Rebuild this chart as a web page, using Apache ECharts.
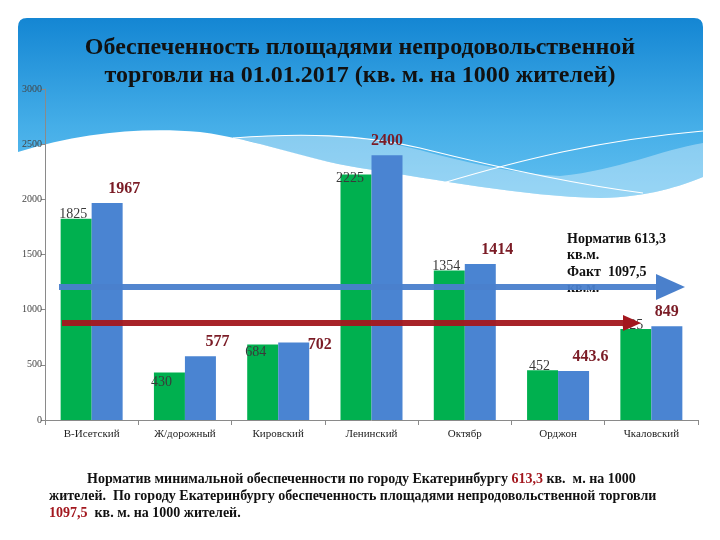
<!DOCTYPE html>
<html>
<head>
<meta charset="utf-8">
<script src="https://cdn.jsdelivr.net/npm/echarts@6/dist/echarts.min.js"></script>
<style>
html,body{margin:0;padding:0;background:#fff;}
#chart{width:720px;height:540px;}
</style>
</head>
<body>
<div id="chart"></div>
<script>
// ---- data ----
const categories = ['В-Исетский', 'Ж/дорожный', 'Кировский', 'Ленинский', 'Октябр', 'Орджон', 'Чкаловский'];
const greenValues = [1825, 430, 684, 2225, 1354, 452, 825];
const blueValues = [1967, 577, 702, 2400, 1414, 443.6, 849];
const yMin = 0, yMax = 3000, yStep = 500;
const arrowLevels = [1205, 880]; // decorative arrows (blue, red) in axis units
const titleLines = ['Обеспеченность площадями непродовольственной', 'торговли на 01.01.2017 (кв. м. на 1000 жителей)'];
const noteLines = ['Норматив 613,3', 'кв.м.', 'Факт  1097,5', 'кв.м.'];

const SERIF = "'Liberation Serif', 'Times New Roman', serif";

// label placement tweaks (styling only, by category index)
const greenLabelOffsets = {1: [-8, 18], 2: [-7, 16], 3: [-6, 12]};
const blueLabelOffsets = {2: [26, 16], 3: [0, 0], 6: [0, 0]};

// decorative background shapes
function regPath(name, d) {
  echarts.graphic.registerShape(name, echarts.graphic.extendPath(d, {}));
}
regPath('waveMain', 'M18,27 Q18,18 27,18 L694,18 Q703,18 703,27 L703,177 C680,186 650,197 600,198 C520,196 440,180 360,168 C300,158 260,140 200,132 C140,127 80,133 18,152 Z');
regPath('waveBand', 'M233,138 C300,132 360,134 420,150 C480,166 520,174 560,176 C620,170 660,150 703,143 L703,177 C680,186 650,197 600,198 C520,196 440,180 360,168 C300,158 265,143 233,138 Z');
regPath('waveLineA', 'M233,138 C300,133 360,134 420,148 C500,168 580,185 643,193');
regPath('waveLineB', 'M443,183 C520,160 600,140 703,131');

const chart = echarts.init(document.getElementById('chart'), null, {renderer: 'canvas'});

const greenData = greenValues.map((v, i) => greenLabelOffsets[i] ? {value: v, label: {offset: greenLabelOffsets[i]}} : v);
const blueData = blueValues.map((v, i) => blueLabelOffsets[i] ? {value: v, label: {offset: blueLabelOffsets[i]}} : v);

const option = {
  animation: false,
  backgroundColor: '#ffffff',
  title: {
    text: titleLines.join('\n'),
    left: 'center',
    top: 29,
    textStyle: {fontFamily: SERIF, fontWeight: 'bold', fontSize: 24, lineHeight: 28, color: '#111'}
  },
  grid: {left: 45, right: 22, top: 89, bottom: 120},
  xAxis: {
    type: 'category',
    data: categories,
    axisLine: {lineStyle: {color: '#8a8a8a', width: 1}},
    axisTick: {show: true, length: 5, lineStyle: {color: '#8a8a8a'}},
    axisLabel: {fontFamily: SERIF, fontSize: 11, color: '#222', margin: 9, interval: 0}
  },
  yAxis: {
    type: 'value',
    min: yMin, max: yMax, interval: yStep,
    splitLine: {show: false},
    axisLine: {show: true, lineStyle: {color: '#8a8a8a', width: 1}},
    axisTick: {show: true, length: 4, lineStyle: {color: '#8a8a8a'}},
    axisLabel: {fontFamily: SERIF, fontSize: 10, color: '#444', margin: 3, formatter: v => String(v)}
  },
  series: [
    {
      type: 'bar', name: 'green', data: greenData,
      barWidth: 31, barGap: '0%',
      itemStyle: {color: '#00b04f'},
      label: {show: true, position: 'top', distance: 1, offset: [-3, 4],
        fontFamily: SERIF, fontSize: 14, color: '#3a3a3a'}
    },
    {
      type: 'bar', name: 'blue', data: blueData,
      barWidth: 31, barGap: '0%',
      itemStyle: {color: '#4a84d2'},
      label: {show: true, position: 'top', distance: 6, offset: [17, 0],
        fontFamily: SERIF, fontSize: 16, fontWeight: 'bold', color: '#7b1c26'}
    }
  ]
};
chart.setOption(option);

const yBlue = chart.convertToPixel({yAxisIndex: 0}, arrowLevels[0]);
const yRed = chart.convertToPixel({yAxisIndex: 0}, arrowLevels[1]);

const B = {fontFamily: SERIF, fontWeight: 'bold', fontSize: 14, fill: '#111'};
const R = {fontFamily: SERIF, fontWeight: 'bold', fontSize: 14, fill: '#a3171e'};

const graphics = [
  {type: 'waveMain', z: -10, silent: true,
   style: {fill: new echarts.graphic.LinearGradient(0, 0, 0, 1, [
     {offset: 0, color: '#1486d3'}, {offset: 0.6, color: '#45aee8'}, {offset: 1, color: '#62c0f0'}])}},
  {type: 'waveBand', z: -9, silent: true, style: {fill: 'rgba(255,255,255,0.35)'}},
  {type: 'waveLineA', z: -8, silent: true, style: {fill: null, stroke: '#ffffff', lineWidth: 1.2}},
  {type: 'waveLineB', z: -8, silent: true, style: {fill: null, stroke: '#ffffff', lineWidth: 1.2}},
  // note text box
  {type: 'text', z: 50, left: 567, top: 231,
   style: {text: noteLines.join('\n'), fontFamily: SERIF, fontWeight: 'bold', fontSize: 14, lineHeight: 16.5, fill: '#111'}},
  // blue arrow
  {type: 'rect', z: 60, shape: {x: 59, y: yBlue - 3, width: 600, height: 6},
   style: {fill: '#4a80cc', opacity: 0.95}},
  {type: 'polygon', z: 60, shape: {points: [[656, yBlue - 13], [685, yBlue], [656, yBlue + 13]]},
   style: {fill: '#4a80cc'}},
  // red arrow
  {type: 'rect', z: 60, shape: {x: 62, y: yRed - 3, width: 564, height: 6},
   style: {fill: '#a3171e', opacity: 0.95}},
  {type: 'polygon', z: 60, shape: {points: [[623, yRed - 8], [641, yRed], [623, yRed + 8]]},
   style: {fill: '#a3171e'}},
  // bottom notes
  {type: 'text', z: 50, left: 87, top: 472,
   style: {text: '{b|Норматив минимальной обеспеченности по городу Екатеринбургу }{r|613,3}{b| кв.  м. на 1000}',
     rich: {b: B, r: R}}},
  {type: 'text', z: 50, left: 49, top: 489,
   style: {text: 'жителей.  По городу Екатеринбургу обеспеченность площадями непродовольственной торговли',
     fontFamily: SERIF, fontWeight: 'bold', fontSize: 14, fill: '#111'}},
  {type: 'text', z: 50, left: 49, top: 506,
   style: {text: '{r|1097,5}{b|  кв. м. на 1000 жителей.}', rich: {b: B, r: R}}}
];
chart.setOption({graphic: graphics});
</script>
</body>
</html>
